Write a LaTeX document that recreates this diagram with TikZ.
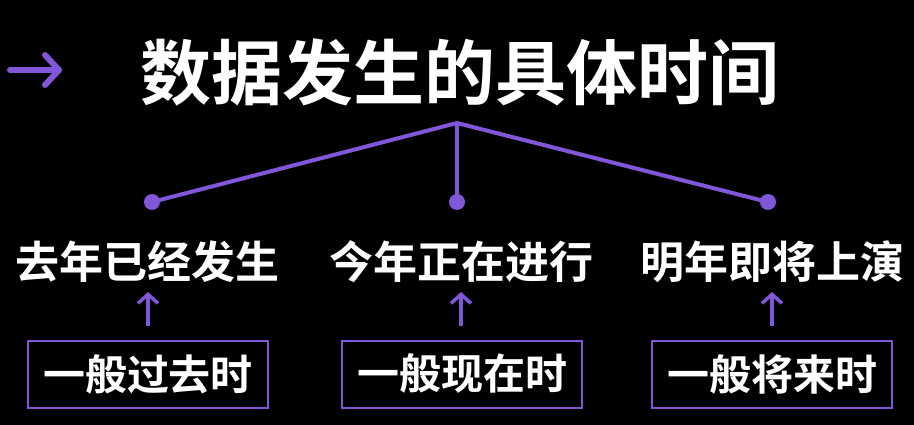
\documentclass[tikz,border=0pt]{standalone}
\usepackage{fontspec}
\newfontfamily\cjk{Noto Sans CJK SC Bold}
\usetikzlibrary{arrows.meta}
\definecolor{vio}{HTML}{8057D8}
\begin{document}
\begin{tikzpicture}[x=1pt,y=-1pt,
  lbl/.style={text=white,font=\cjk\fontsize{44}{46}\selectfont,inner sep=0pt},
  tbox/.style={lbl,font=\cjk\fontsize{42}{44}\selectfont,draw=vio,line width=2pt,minimum width=240pt,minimum height=67pt},
  vline/.style={draw=vio,line width=4pt},
  dotn/.style={circle,fill=vio,minimum size=16pt,inner sep=0pt},
  uparr/.style={draw=vio,line width=3.5pt,-{Straight Barb[length=9pt,width=20pt]}}]
\fill[black] (0,0) rectangle (914,425);
\useasboundingbox (0,0) rectangle (914,425);
\coordinate (a0) at (10,70);
\coordinate (a1) at (62,70);
\draw[draw=vio,line width=6pt,line cap=round,-{Straight Barb[length=14pt,width=30pt,round]}] (a0) -- (a1);
\node[text=white,font=\cjk\fontsize{71}{73}\selectfont,inner sep=0pt] (title) at (460,72) {数据发生的具体时间};
\coordinate (apex) at (457,123);
\node[dotn] (d1) at (152,202) {};
\node[dotn] (d2) at (457,202) {};
\node[dotn] (d3) at (768,202) {};
\draw[vline] (d1.center) -- (apex) -- (d3.center);
\draw[vline] (apex) -- (d2.center);
\node[lbl] (l1) at (148,262) {去年已经发生};
\node[lbl] (l2) at (461,262) {今年正在进行};
\node[lbl] (l3) at (772,262) {明年即将上演};
\node[tbox] (b1) at (148,374) {一般过去时};
\node[tbox] (b2) at (462,374) {一般现在时};
\node[tbox] (b3) at (772,374) {一般将来时};
\coordinate (u1s) at (148,326);
\coordinate (u1e) at (148,292);
\coordinate (u2s) at (461,326);
\coordinate (u2e) at (461,292);
\coordinate (u3s) at (772,326);
\coordinate (u3e) at (772,292);
\draw[uparr] (u1s) -- (u1e);
\draw[uparr] (u2s) -- (u2e);
\draw[uparr] (u3s) -- (u3e);
\end{tikzpicture}
\end{document}
